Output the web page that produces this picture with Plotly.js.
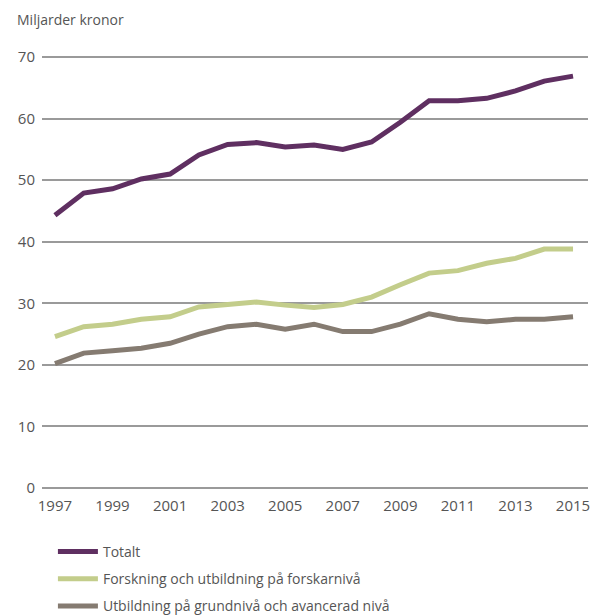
<!DOCTYPE html>
<html>
<head>
<meta charset="utf-8">
<script src="https://cdn.plot.ly/plotly-3.0.1.min.js"></script>
<style>
  body { margin: 0; background: #fff; }
  #chart { width: 590px; height: 615px; }
</style>
</head>
<body>
<div id="chart"></div>
<script>
const years = [1997, 1998, 1999, 2000, 2001, 2002, 2003, 2004, 2005, 2006,
               2007, 2008, 2009, 2010, 2011, 2012, 2013, 2014, 2015];
const totalt = [44.3, 47.9, 48.6, 50.2, 51.0, 54.1, 55.8, 56.1, 55.4, 55.7,
                55.0, 56.2, 59.4, 62.9, 62.9, 63.3, 64.5, 66.1, 66.9];
const forskning = [24.6, 26.2, 26.6, 27.4, 27.8, 29.4, 29.8, 30.2, 29.7, 29.3,
                   29.8, 31.0, 33.0, 34.9, 35.3, 36.5, 37.3, 38.8, 38.8];
const utbildning = [20.2, 21.9, 22.3, 22.7, 23.5, 25.0, 26.2, 26.6, 25.8, 26.6,
                    25.4, 25.4, 26.6, 28.3, 27.4, 27.0, 27.4, 27.4, 27.8];

const seriesNames = ['Totalt', 'Forskning och utbildning på forskarnivå',
                     'Utbildning på grundnivå och avancerad nivå'];
const seriesColors = ['#5f2f61', '#c3cd8b', '#857b71'];
const seriesValues = [totalt, forskning, utbildning];

const traces = seriesValues.map((vals, i) => ({
    x: years,
    y: vals,
    type: 'scatter',
    mode: 'lines',
    name: seriesNames[i],
    legendgroup: 'g' + i,
    line: { color: seriesColors[i], width: 5 }
}));

const layout = {
    width: 590,
    height: 615,
    margin: { l: 42, r: 2, t: 54, b: 124, autoexpand: false },
    paper_bgcolor: '#fff',
    plot_bgcolor: '#fff',
    font: { family: 'Open Sans, sans-serif', color: '#555', size: 15 },
    showlegend: true,
    legend: {
        x: 0.02, xanchor: 'left',
        y: -0.103, yanchor: 'top',
        font: { size: 14, color: '#555' },
        tracegroupgap: 6,
        itemwidth: 40
    },
    annotations: [{
        text: 'Miljarder kronor',
        xref: 'paper', yref: 'paper',
        x: -0.05, y: 1.052, xanchor: 'left', yanchor: 'bottom',
        showarrow: false,
        font: { size: 14, color: '#555' }
    }],
    xaxis: {
        range: [1996.55, 2015.52],
        tick0: 1997, dtick: 2,
        showgrid: false, zeroline: false, showline: false,
        ticks: '', ticklabelstandoff: 4, ticklabeloverflow: 'allow',
        tickfont: { size: 15 }
    },
    yaxis: {
        range: [-0.5, 70.5],
        tick0: 0, dtick: 10,
        showgrid: true, gridcolor: '#9a9a9a', gridwidth: 1.5,
        zeroline: false, showline: false,
        ticks: '', ticklabelstandoff: 6, tickfont: { size: 15 }
    }
};

Plotly.newPlot('chart', traces, layout, { displayModeBar: false });
</script>
</body>
</html>
